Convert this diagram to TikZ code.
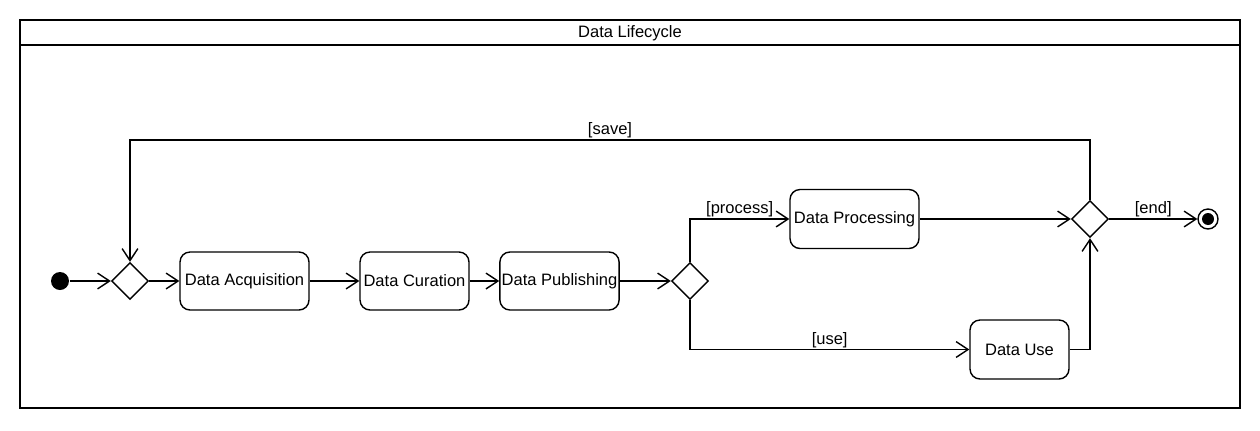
\documentclass[tikz,border=0pt]{standalone}
\usepackage{fontspec}
\setmainfont{Liberation Sans}
\usetikzlibrary{arrows.meta,shapes.geometric}

\tikzset{
    action/.style={draw, rounded corners=2mm, minimum height=1.16cm, inner sep=1pt},
    decision/.style={draw, diamond, minimum width=0.74cm, minimum height=0.74cm, inner sep=0pt},
    flow/.style={-{Straight Barb[length=6.8pt,width=9pt]}},
    guard/.style={above, inner sep=0.5pt}
}

\begin{document}
\begin{tikzpicture}[x=0.02cm, y=-0.02cm, line width=0.8pt,
    font=\fontsize{9.4}{11}\selectfont]

\useasboundingbox (0,0) rectangle (1260,430);

% frame
\draw (20,20) rectangle (1240,408);
\draw (20,45) -- (1240,45);
\node (title) at (630,33.5) {Data Lifecycle};

\coordinate (loop) at (0,140);

\node [circle, fill, minimum size=0.36cm, inner sep=0pt] (start) at (60,281) {};
\node [decision] (d1) at (130,281) {};
\node [action, minimum width=2.58cm] (acq) at (244.5,281) {Data Acquisition};
\node [action, minimum width=2.18cm] (cur) at (414.5,281) {Data Curation};
\node [action, minimum width=2.38cm] (pub) at (559.5,281) {Data Publishing};
\node [decision] (d2) at (690,281) {};
\node [action, minimum width=2.58cm, minimum height=1.18cm] (proc) at (854.5,219) {Data Processing};
\node [action, minimum width=1.98cm, minimum height=1.18cm] (use) at (1019.5,349.5) {Data Use};
\node [decision] (d3) at (1090,219) {};
\node [circle, draw, minimum size=0.4cm, inner sep=0pt] (end) at (1208,219) {};
\fill (end) circle (0.12cm);

\draw [flow] (start) -- (d1);
\draw [flow] (d1) -- (acq);
\draw [flow] (acq) -- (cur);
\draw [flow] (cur) -- (pub);
\draw [flow] (pub) -- (d2);

\draw [flow] (d2.north) |- node [guard, pos=0.75] {[process]} (proc.west);
\draw [flow] (d2.south) |- node [guard, pos=0.75] {[use]} (use.west);
\draw [flow] (proc) -- (d3);
\draw [flow] (use.east) -| (d3.south);

\draw [flow] (d3.north) |- node [guard, pos=0.75] {[save]} (d1.north |- loop) -- (d1.north);
\draw [flow] (d3) -- node [guard] {[end]} (end);

\end{tikzpicture}
\end{document}
